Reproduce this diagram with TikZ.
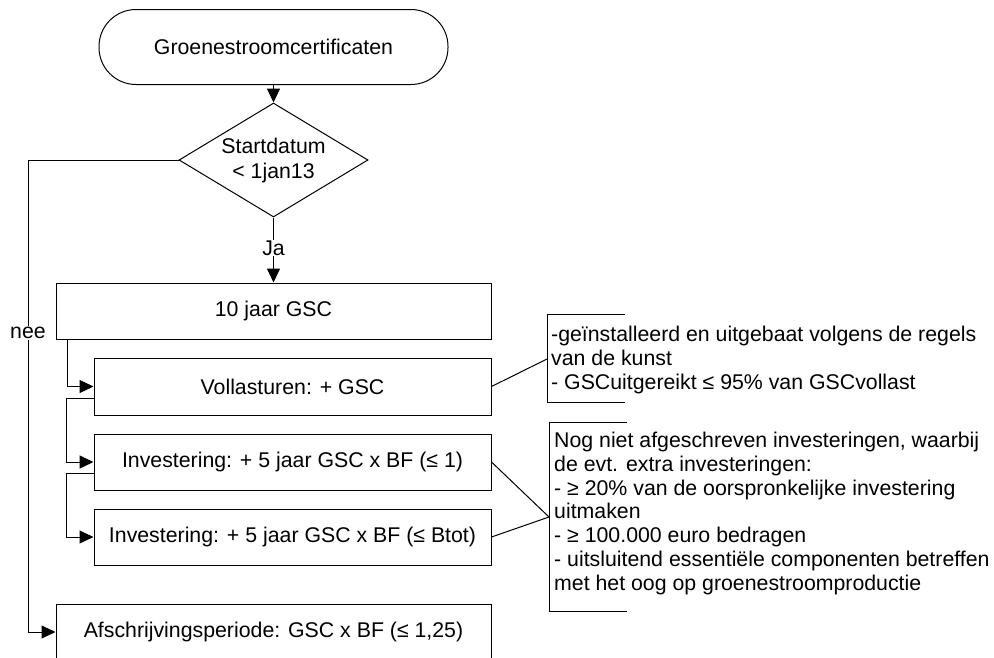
\documentclass[tikz,border=0pt]{standalone}
\usepackage{fontspec}
\setmainfont{Liberation Sans}
\usetikzlibrary{arrows.meta,shapes.geometric}
\begin{document}
\begin{tikzpicture}[x=1pt,y=-1pt,
  every node/.style={font=\fontsize{21.3}{23.7}\selectfont},
  flow/.style={draw=black,line width=1pt,inner sep=0pt},
  procbox/.style={flow,rectangle},
  conn/.style={draw=black,line width=1pt},
  arr/.style={conn,-{Triangle[length=14pt,width=13pt]}},
  lbl/.style={fill=white,inner sep=1pt},
  note/.style={anchor=base west,align=left,inner sep=0pt}]
\useasboundingbox (0,0) rectangle (994,657);
\clip (0,0) rectangle (994,657);
\fill[white] (0,0) rectangle (994,657);

\node[flow,rectangle,rounded corners=37pt,minimum width=349pt,minimum height=75pt] (term) at (273.5,47) {Groenestroomcertificaten};
\node[flow,diamond,aspect=1.66,minimum width=189pt,minimum height=114pt,align=center,font=\fontsize{21.3}{25}\selectfont] (dia) at (273.5,160) {Startdatum\\< 1jan13};
\node[procbox,minimum width=435pt,minimum height=56pt] (b10) at (273.5,311) {10 jaar GSC};
\node[procbox,minimum width=397pt,minimum height=57pt] (vol) at (292.5,386.5) {Vollasturen: + GSC};
\node[procbox,minimum width=397pt,minimum height=56pt] (inv1) at (292.5,462) {Investering: + 5 jaar GSC x BF (≤ 1)};
\node[procbox,minimum width=397pt,minimum height=56pt] (inv2) at (292.5,537) {Investering: + 5 jaar GSC x BF (≤ Btot)};
\node[procbox,minimum width=435pt,minimum height=56pt] (afs) at (273.5,632) {Afschrijvingsperiode: GSC x BF (≤ 1,25)};

% main flow
\draw[arr] (term) -- (dia);
\draw[arr] (dia) -- node[lbl,pos=0.47] (ja) {Ja} (b10);
\coordinate (neeA) at (28,160);
\draw[arr] (dia.west) -- (neeA) |- node[lbl,pos=0.183] (nee) {nee} (afs.west);

% sub branches
\draw[arr] ([xshift=12pt]b10.south west) |- (vol.west);
\draw[arr] ([yshift=-11.5pt]vol.west) -- ++(-27,0) |- (inv1.west);
\draw[arr] ([yshift=-11pt]inv1.west) -- ++(-27,0) |- (inv2.west);

% annotation 1
\coordinate (n1t) at (625,314);
\coordinate (n1tl) at (547,314);
\coordinate (n1bl) at (547,402);
\coordinate (n1b) at (625,402);
\coordinate (n1m) at (547,359);
\draw[conn] (n1t) -- (n1tl) -- (n1bl) -- (n1b);
\draw[conn] (vol.east) -- (n1m);
\node[note] (note1) at (551,389) {-geïnstalleerd en uitgebaat volgens de regels\\van de kunst\\- GSCuitgereikt ≤ 95\% van GSCvollast};

% annotation 2
\coordinate (n2t) at (627,422);
\coordinate (n2tl) at (549,422);
\coordinate (n2bl) at (549,611);
\coordinate (n2b) at (627,611);
\coordinate (n2m) at (549,517);
\draw[conn] (n2t) -- (n2tl) -- (n2bl) -- (n2b);
\draw[conn] (inv1.east) -- (n2m);
\draw[conn] (inv2.east) -- (n2m);
\node[note] (note2) at (554,590) {Nog niet afgeschreven investeringen, waarbij\\de evt. extra investeringen:\\- ≥ 20\% van de oorspronkelijke investering\\uitmaken\\- ≥ 100.000 euro bedragen\\- uitsluitend essentiële componenten betreffen\\met het oog op groenestroomproductie};
\end{tikzpicture}
\end{document}
